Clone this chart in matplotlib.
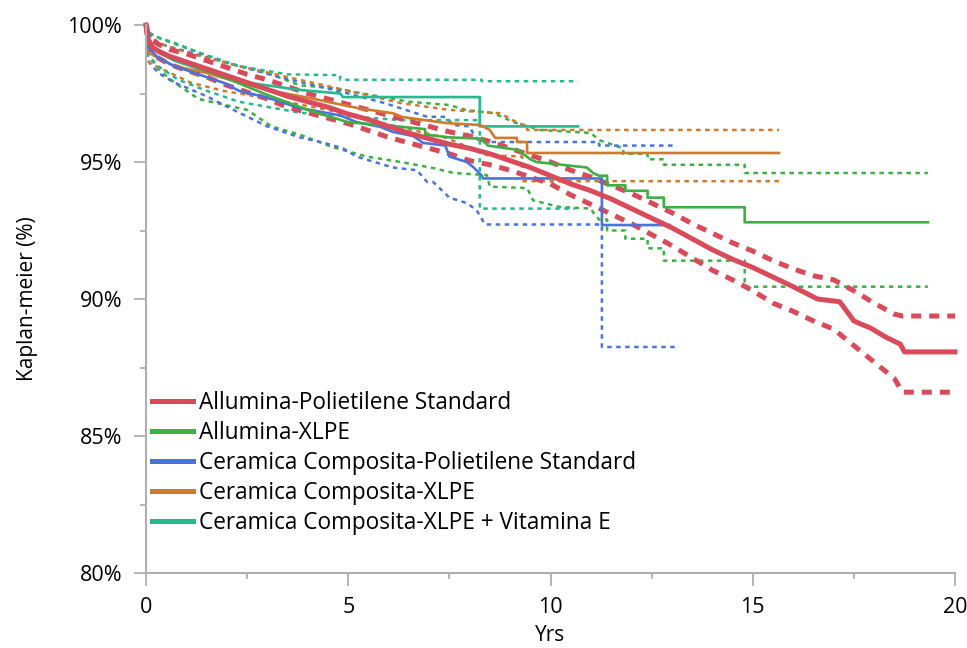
import matplotlib
matplotlib.use("Agg")
import matplotlib.pyplot as plt
import matplotlib.ticker as ticker

plt.rcParams["font.family"] = ["Open Sans", "DejaVu Sans"]

# Curves are given as knots joined by straight segments; a repeated time is a drop.

# --- Allumina-Polietilene Standard ---
t_red = [0, 0.05, 0.15, 0.3, 0.6, 1, 1.5, 2, 2.5, 3, 3.5, 4, 4.5, 5, 5.5, 6, 6.5, 7, 7.5,
         8, 8.5, 9, 9.5, 10, 10.5, 11, 11.5, 12, 12.5, 13, 13.5, 14, 14.5, 15, 15.5, 16,
         16.6, 17.15, 17.5, 17.65, 17.9, 18.3, 18.65, 18.75, 20]
s_red = [100, 99.5, 99.2, 99.05, 98.85, 98.65, 98.4, 98.15, 97.9, 97.65, 97.4, 97.2, 97.0,
         96.75, 96.55, 96.3, 96.05, 95.85, 95.65, 95.5, 95.3, 95.05, 94.8, 94.5, 94.2,
         93.95, 93.65, 93.3, 92.95, 92.6, 92.2, 91.8, 91.45, 91.15, 90.8, 90.45, 90.0,
         89.9, 89.2, 89.1, 88.95, 88.6, 88.35, 88.07, 88.07]
t_red_ci = [0, 0.05, 0.15, 0.3, 0.6, 1, 1.5, 2, 2.5, 3, 3.5, 4, 4.5, 5, 5.5, 6, 6.5, 7, 7.5,
            8, 8.5, 9, 9.5, 10, 10.5, 11, 11.5, 12, 12.5, 13, 13.5, 14, 14.5, 15, 15.5, 16,
            16.5, 17, 17.5, 18, 18.5, 18.7, 20]
hi_red = [100, 99.7, 99.45, 99.3, 99.1, 98.95, 98.7, 98.45, 98.2, 98.0, 97.75, 97.5, 97.3,
          97.1, 96.9, 96.7, 96.5, 96.3, 96.1, 95.95, 95.75, 95.5, 95.25, 95.0, 94.7,
          94.45, 94.15, 93.85, 93.5, 93.15, 92.75, 92.4, 92.05, 91.75, 91.4, 91.1, 90.85,
          90.7, 90.3, 89.85, 89.45, 89.38, 89.38]
lo_red = [100, 99.3, 98.95, 98.8, 98.55, 98.35, 98.1, 97.8, 97.55, 97.3, 97.0, 96.8, 96.6,
          96.4, 96.15, 95.9, 95.7, 95.5, 95.3, 95.05, 94.9, 94.7, 94.45, 94.2, 93.8,
          93.45, 93.1, 92.75, 92.35, 91.95, 91.5, 91.05, 90.7, 90.3, 89.85, 89.55, 89.2,
          88.9, 88.3, 87.7, 87.1, 86.6, 86.6]

# --- Allumina-XLPE ---
t_grn = [0, 0.05, 0.3, 1, 2, 3, 4, 5, 6, 6.9, 6.9, 7.5, 8.3, 8.45, 9.2, 9.5, 9.65, 10.9,
         11.05, 11.2, 11.4, 11.4, 11.85, 11.85, 12.4, 12.4, 12.8, 12.8, 14.8, 14.8, 19.33]
s_grn = [100, 99.3, 99.0, 98.6, 98.05, 97.45, 96.9, 96.45, 96.33, 96.2, 96.0, 95.9, 95.85,
         95.6, 95.44, 95.1, 95.0, 94.8, 94.6, 94.5, 94.5, 94.15, 94.15, 93.95, 93.95,
         93.7, 93.7, 93.35, 93.35, 92.8, 92.8]
t_grn_hi = [0, 0.05, 0.2, 0.7, 1.3, 1.9, 3.0, 3.8, 4.6, 6.5, 7.5, 7.9, 8.6, 9.1, 9.75, 11.0,
            11.2, 11.7, 11.8, 11.8, 12.4, 12.4, 12.8, 12.8, 14.8, 14.8, 19.33]
hi_grn = [100, 99.7, 99.6, 99.35, 99.0, 98.65, 98.25, 97.8, 97.7, 97.2, 97.08, 96.9, 96.78,
          96.45, 96.17, 96.06, 95.8, 95.55, 95.5, 95.3, 95.3, 95.1, 95.1, 94.9, 94.9, 94.6,
          94.6]
t_grn_lo = [0, 0.05, 0.3, 0.7, 1.3, 2.5, 3.1, 3.8, 4.6, 5.45, 6.3, 7.1, 7.6, 8.43, 8.5,
            9.42, 9.57, 10.23, 11.0, 11.05, 11.2, 11.4, 11.4, 11.85, 11.85, 12.4, 12.4, 12.8,
            12.8, 14.8, 14.8, 19.33]
lo_grn = [100, 98.9, 98.4, 97.9, 97.3, 96.9, 96.3, 96.0, 95.55, 95.2, 95.0, 94.78, 94.6,
          94.52, 94.1, 94.05, 93.6, 93.36, 93.3, 93.17, 92.9, 92.9, 92.5, 92.5, 92.2, 92.2,
          91.85, 91.85, 91.4, 91.4, 90.45, 90.45]

# --- Ceramica Composita-Polietilene Standard ---
t_blu = [0, 0.05, 0.3, 0.7, 1.3, 1.9, 2.3, 3.0, 3.8, 4.8, 5.2, 5.8, 6.1, 6.6, 6.85, 7.4,
         7.5, 7.93, 8.1, 8.3, 8.33, 11.27, 11.27, 12.95]
s_blu = [100, 99.2, 98.8, 98.5, 98.2, 97.9, 97.6, 97.35, 96.97, 96.7, 96.46, 96.28, 96.1,
         95.95, 95.7, 95.6, 95.2, 95.0, 94.8, 94.5, 94.4, 94.4, 92.7, 92.7]
t_blu_hi = [0, 0.05, 0.35, 1.1, 2.3, 3.3, 4.3, 5.0, 5.9, 6.95, 7.4, 7.6, 8.0, 8.1, 8.26,
            11.2, 11.2, 13.1]
hi_blu = [100, 99.7, 99.3, 99.0, 98.5, 98.1, 97.75, 97.5, 97.15, 96.65, 96.65, 96.35, 96.3,
          96.0, 95.73, 95.73, 95.6, 95.6]
t_blu_lo = [0, 0.05, 0.3, 0.7, 1.5, 2.3, 3.0, 3.8, 4.4, 4.87, 5.2, 6.1, 6.7, 6.95, 7.1,
            7.5, 7.93, 8.17, 8.38, 11.27, 11.27, 13.1]
lo_blu = [100, 98.7, 98.25, 97.9, 97.4, 96.8, 96.3, 95.9, 95.7, 95.5, 95.2, 94.8, 94.7,
          94.27, 94.27, 93.7, 93.5, 93.25, 92.72, 92.72, 88.25, 88.25]

# --- Ceramica Composita-XLPE ---
t_org = [0, 0.05, 0.3, 0.7, 1.5, 2.3, 3.1, 4.0, 4.8, 5.3, 6.1, 6.35, 7.43, 8.26, 8.5, 8.63,
         9.17, 9.17, 9.42, 9.42, 15.65]
s_org = [100, 99.0, 98.8, 98.5, 98.25, 97.9, 97.6, 97.35, 97.1, 96.95, 96.78, 96.64, 96.42,
         96.35, 96.17, 95.88, 95.88, 95.73, 95.73, 95.33, 95.33]
t_org_hi = [0, 0.05, 0.3, 1.0, 2.3, 3.5, 5.3, 6.3, 7.5, 8.75, 9.1, 9.42, 9.42, 15.65]
hi_org = [100, 99.6, 99.35, 99.0, 98.5, 98.1, 97.5, 97.15, 96.9, 96.78, 96.5, 96.3, 96.17,
          96.17]
t_org_lo = [0, 0.05, 0.1, 1.1, 1.9, 3.1, 4.5, 5.6, 7.43, 8.43, 9.3, 9.3, 15.65]
lo_org = [100, 98.7, 98.6, 97.9, 97.6, 97.3, 96.9, 96.5, 95.88, 95.25, 95.2, 94.3, 94.3]

# --- Ceramica Composita-XLPE + Vitamina E ---
t_tea = [0, 0.05, 0.3, 0.7, 1.5, 2.5, 3.8, 4.8, 4.87, 8.25, 8.25, 10.68]
s_tea = [100, 99.3, 99.0, 98.7, 98.3, 97.9, 97.63, 97.5, 97.37, 97.37, 96.3, 96.3]
t_tea_hi = [0, 0.05, 0.35, 1.1, 2.3, 3.5, 4.8, 4.8, 8.3, 8.3, 10.68]
hi_tea = [100, 99.75, 99.5, 99.1, 98.5, 98.2, 98.17, 98.0, 98.0, 97.95, 97.95]
t_tea_lo = [0, 0.05, 0.3, 0.8, 1.5, 2.3, 3.8, 6.28, 8.25, 8.25, 10.6]
lo_tea = [100, 98.9, 98.5, 98.0, 97.6, 97.2, 96.8, 96.53, 96.53, 93.3, 93.3]

names = ["Allumina-Polietilene Standard", "Allumina-XLPE",
         "Ceramica Composita-Polietilene Standard", "Ceramica Composita-XLPE",
         "Ceramica Composita-XLPE + Vitamina E"]

RED, GRN, BLU, ORG, TEA = "#d94a5a", "#3cb043", "#4a73db", "#d07a2e", "#26b98e"

fig = plt.figure(figsize=(9.67, 6.48), dpi=100)
ax = fig.add_axes([0.151, 0.1157, 0.8366, 0.8457])

thin_dash = (0, (1.8, 1.8))
thick_dash = (0, (2.0, 1.6))

# confidence bands (thin dashed)
for t, v, c in [(t_grn_hi, hi_grn, GRN), (t_grn_lo, lo_grn, GRN),
                (t_blu_hi, hi_blu, BLU), (t_blu_lo, lo_blu, BLU),
                (t_org_hi, hi_org, ORG), (t_org_lo, lo_org, ORG),
                (t_tea_hi, hi_tea, TEA), (t_tea_lo, lo_tea, TEA)]:
    ax.plot(t, v, color=c, lw=1.8, ls=thin_dash, clip_on=False)

ax.plot(t_red_ci, hi_red, color=RED, lw=3.6, ls=thick_dash, clip_on=False)
ax.plot(t_red_ci, lo_red, color=RED, lw=3.6, ls=thick_dash, clip_on=False)

# survival curves
ax.plot(t_tea, s_tea, color=TEA, lw=1.9, clip_on=False)
ax.plot(t_org, s_org, color=ORG, lw=1.9, clip_on=False)
ax.plot(t_blu, s_blu, color=BLU, lw=1.9, clip_on=False)
ax.plot(t_grn, s_grn, color=GRN, lw=1.9, clip_on=False)
ax.plot(t_red, s_red, color=RED, lw=3.6, clip_on=False)

handles = [plt.Line2D([], [], color=c, lw=3.6) for c in [RED, GRN, BLU, ORG, TEA]]
ax.legend(handles, names, loc="upper left", bbox_to_anchor=(0.008, 0.332),
          frameon=False, fontsize=16.3, handlelength=1.8, handletextpad=0.25,
          labelspacing=0.26, borderaxespad=0, borderpad=0)

ax.set_xlim(0, 20)
ax.set_ylim(80, 100)
ax.xaxis.set_major_locator(ticker.MultipleLocator(5))
ax.xaxis.set_minor_locator(ticker.MultipleLocator(2.5))
ax.yaxis.set_major_locator(ticker.MultipleLocator(5))
ax.yaxis.set_minor_locator(ticker.MultipleLocator(2.5))
ax.yaxis.set_major_formatter(ticker.FuncFormatter(lambda v, p: f"{v:.0f}%"))

for s in ["top", "right"]:
    ax.spines[s].set_visible(False)
for s in ["left", "bottom"]:
    ax.spines[s].set_color("#b0b0b0")
    ax.spines[s].set_linewidth(1.5)
ax.tick_params(which="major", length=9, width=1.3, color="#b0b0b0",
               labelsize=15.5, pad=8)
ax.tick_params(which="minor", length=4.5, width=1.3, color="#b0b0b0")

ax.set_xlabel("Yrs", fontsize=15)
ax.set_ylabel("Kaplan-meier (%)", fontsize=15)
ax.xaxis.set_label_coords(0.5, -0.095)
ax.yaxis.set_label_coords(-0.134, 0.5)

fig.savefig("out.png", dpi=100)
